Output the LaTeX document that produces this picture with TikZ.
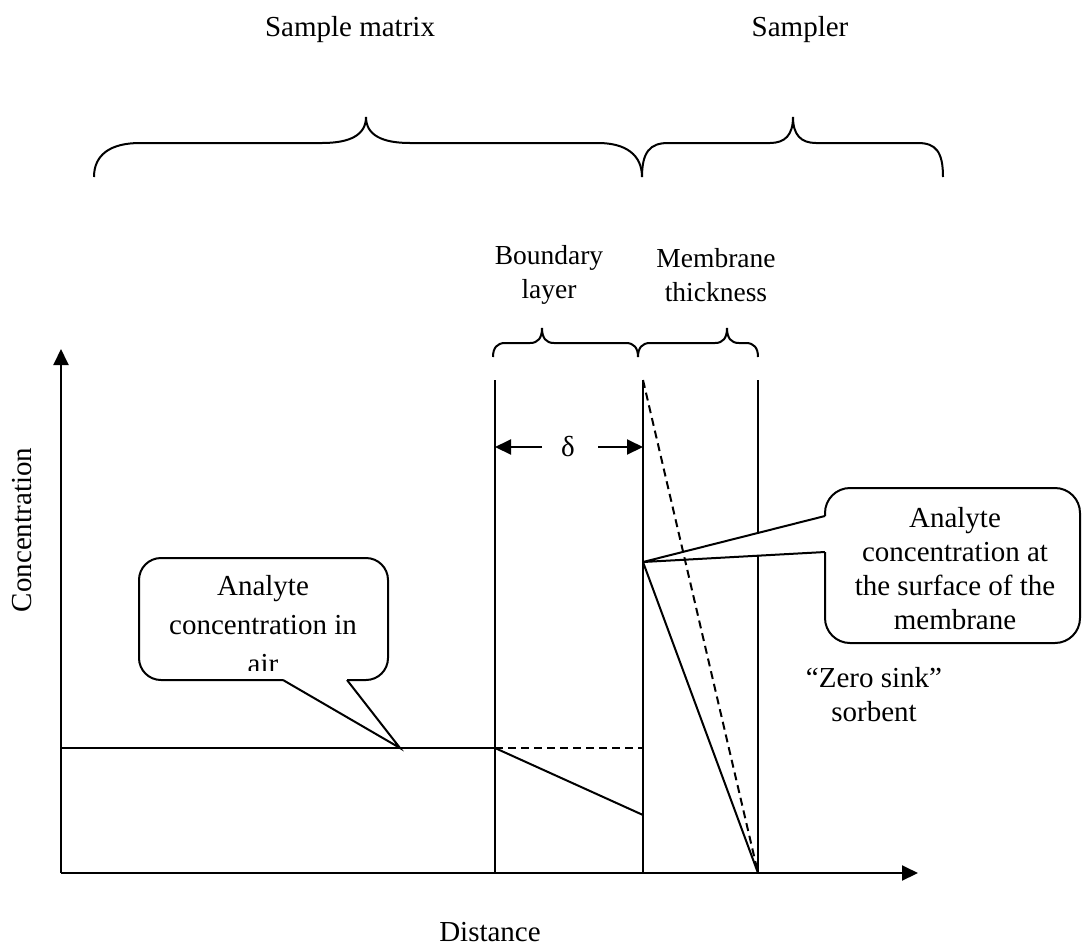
\documentclass[tikz,border=0pt]{standalone}
\usepackage{fontspec}
\setmainfont{Liberation Serif}
\usetikzlibrary{arrows.meta}
\begin{document}
\begin{tikzpicture}[x=1pt,y=-1pt,line width=2pt,
  lbl/.style={font=\fontsize{29}{34}\selectfont,inner sep=0pt,align=center},
  slbl/.style={font=\fontsize{27.5}{34}\selectfont,inner sep=0pt,align=center},
  ax/.style={-{Triangle[length=16pt,width=15pt]}},
  dsh/.style={dash pattern=on 8pt off 5pt},
  box/.style={rounded corners=22pt}]
\useasboundingbox (0,0) rectangle (1084,951);
% top labels
\node[lbl] (sm) at (350,30) {Sample matrix};
\node[lbl] (sp) at (800,30) {Sampler};
% big braces
\draw (94,177) .. controls (94,155) and (110,143) .. (140,143) -- (322,143)
  .. controls (350,143) and (366,135) .. (366,117)
  .. controls (366,135) and (382,143) .. (410,143) -- (598,143)
  .. controls (626,143) and (642,155) .. (642,177);
\draw (642,177) .. controls (642,152) and (650,143) .. (668,143) -- (770,143)
  .. controls (785,143) and (793,135) .. (793,117)
  .. controls (793,135) and (801,143) .. (816,143) -- (918,143)
  .. controls (936,143) and (943,152) .. (943,177);
% small labels
\node[slbl] (bl) at (549,275) {Boundary\\layer};
\node[slbl] (mt) at (716,275) {Membrane\\thickness};
% small braces
\draw (493,357) .. controls (493,348) and (497,343) .. (505,343) -- (530,343)
  .. controls (538,343) and (542,338) .. (542,328)
  .. controls (542,338) and (546,343) .. (554,343) -- (626,343)
  .. controls (634,343) and (638,348) .. (638,357);
\draw (638,357) .. controls (638,348) and (642,343) .. (650,343) -- (715,343)
  .. controls (723,343) and (727,338) .. (727,328)
  .. controls (727,338) and (731,343) .. (739,343) -- (746,343)
  .. controls (754,343) and (758,348) .. (758,357);
% axes
\coordinate (O) at (61,873);
\coordinate (Y) at (61,349);
\coordinate (X) at (918,873);
\draw[ax] (O) -- (Y);
\draw[ax] (O) -- (X);
\node[lbl,rotate=90] (cy) at (22,530) {Concentration};
\node[lbl] (dx) at (490,932) {Distance};
% vertical lines
\coordinate (a1) at (495,380); \coordinate (a2) at (495,873);
\coordinate (b1) at (643,380); \coordinate (b2) at (643,873);
\coordinate (c1) at (758,380); \coordinate (c2) at (758,873);
\draw (a1) -- (a2);
\draw (b1) -- (b2);
\draw (c1) -- (c2);
% delta
\node[lbl] (dl) at (568,447) {δ};
\coordinate (dL) at (495,447); \coordinate (dR) at (643,447);
\draw[ax] (542,447) -- (dL);
\draw[ax] (598,447) -- (dR);
% concentration profile
\coordinate (p0) at (61,748);
\coordinate (p1) at (495,748);
\coordinate (p2) at (643,748);
\coordinate (p3) at (643,815);
\coordinate (p4) at (643,562);
\draw (p0) -- (p1);
\draw[dsh] (p1) -- (p2);
\draw (p1) -- (p3);
% left callout
\coordinate (lt) at (400,748);
\fill[white,box] (139,558) rectangle (388,680);
\fill[white] (283,679) -- (lt) -- (347,679) -- cycle;
\draw[box] (283,680) -- (139,680) -- (139,558) -- (388,558) -- (388,680) -- (347,680);
\draw[line join=miter] (283,680) -- (lt) -- (347,680);
\begin{scope}
\clip (139,540) rectangle (388,670);
\node[lbl,font=\fontsize{29}{39}\selectfont] (lc) at (263,625) {Analyte\\concentration in\\air};
\end{scope}
% right callout
\fill[white,rounded corners=25pt] (825,488) rectangle (1080,643);
\fill[white] (826,516) -- (p4) -- (826,552) -- cycle;
\draw[rounded corners=25pt] (825,552) -- (825,643) -- (1080,643) -- (1080,488) -- (825,488) -- (825,516);
\draw[line join=miter] (825,516) -- (p4) -- (825,552);
\node[lbl] (rc) at (955,569) {Analyte\\concentration at\\the surface of the\\membrane};
\draw[dsh] (b1) -- (c2);
\draw (p4) -- (c2);
\node[lbl] (zs) at (874,695) {“Zero sink”\\sorbent};
\end{tikzpicture}
\end{document}
